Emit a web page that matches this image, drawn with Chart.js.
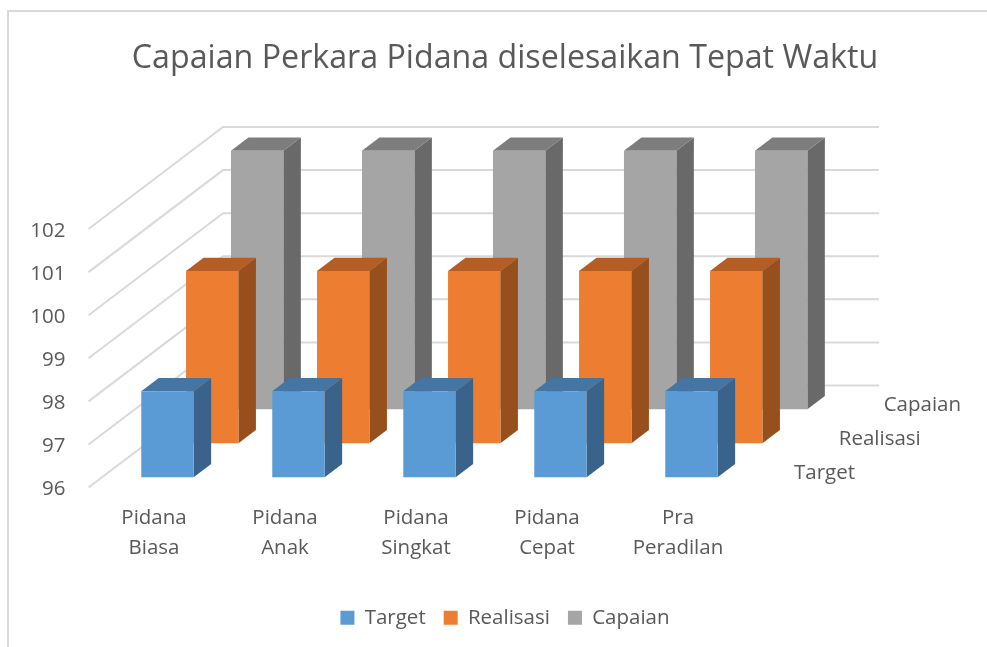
<!DOCTYPE html>
<html>
<head>
<meta charset="utf-8">
<title>Capaian Perkara Pidana</title>
<script src="https://cdn.jsdelivr.net/npm/chart.js@4"></script>
<style>
    html, body { margin: 0; padding: 0; background: #ffffff; }
    canvas { display: block; }
</style>
</head>
<body>
<canvas id="chart" width="987" height="647"></canvas>
<script>
// Data
const categories = [['Pidana', 'Biasa'], ['Pidana', 'Anak'], ['Pidana', 'Singkat'], ['Pidana', 'Cepat'], ['Pra', 'Peradilan']];
const targetValues = [98, 98, 98, 98, 98];
const realisasiValues = [100, 100, 100, 100, 100];
const capaianValues = [102, 102, 102, 102, 102];
const seriesNames = ['Target', 'Realisasi', 'Capaian'];
const axisMin = 96;
const axisMax = 102;

// Warna: depan, atas, samping
const frontColors = ['#5b9bd5', '#ed7d31', '#a5a5a5'];
const topColors = ['#4575a2', '#b45e25', '#7d7d7d'];
const sideColors = ['#39638a', '#974f1e', '#696969'];

const textColor = '#595959';
const gridColor = '#d9d9d9';
const fontFamily = '"Open Sans", sans-serif';

// Arah kedalaman 3D
const wallX = 134.5;
const wallY = -102;
const wallRight = 879;
const seriesDepth = [0.1, 0.433, 0.767];
const barDepth = 0.13;

const fake3d = {
    id: 'fake3d',
    beforeDraw(chart) {
        const ctx = chart.ctx;
        ctx.save();
        ctx.fillStyle = '#ffffff';
        ctx.fillRect(0, 0, chart.width, chart.height);
        // bingkai chart
        ctx.strokeStyle = gridColor;
        ctx.lineWidth = 2;
        ctx.beginPath();
        ctx.moveTo(8, chart.height);
        ctx.lineTo(8, 11);
        ctx.lineTo(chart.width, 11);
        ctx.stroke();
        ctx.restore();
    },
    beforeDatasetsDraw(chart) {
        // dinding kiri dan belakang
        const ctx = chart.ctx;
        const yScale = chart.scales.y;
        const left = chart.chartArea.left;
        ctx.save();
        ctx.strokeStyle = gridColor;
        ctx.lineWidth = 2;
        yScale.ticks.forEach(tick => {
            const y = yScale.getPixelForValue(tick.value);
            ctx.beginPath();
            ctx.moveTo(left, y);
            ctx.lineTo(left + wallX, y + wallY);
            ctx.lineTo(wallRight, y + wallY);
            ctx.stroke();
        });
        ctx.restore();
    },
    beforeDatasetDraw(chart, args) {
        const ctx = chart.ctx;
        const i = args.index;
        const dx = wallX * barDepth;
        const dy = wallY * barDepth;
        ctx.save();
        ctx.translate(wallX * seriesDepth[i], wallY * seriesDepth[i]);
        args.meta.data.forEach(bar => {
            const right = bar.x + bar.width / 2;
            const left = bar.x - bar.width / 2;
            ctx.fillStyle = sideColors[i];
            ctx.beginPath();
            ctx.moveTo(right, bar.y);
            ctx.lineTo(right + dx, bar.y + dy);
            ctx.lineTo(right + dx, bar.base + dy);
            ctx.lineTo(right, bar.base);
            ctx.closePath();
            ctx.fill();
            ctx.fillStyle = topColors[i];
            ctx.beginPath();
            ctx.moveTo(left, bar.y);
            ctx.lineTo(left + dx, bar.y + dy);
            ctx.lineTo(right + dx, bar.y + dy);
            ctx.lineTo(right, bar.y);
            ctx.closePath();
            ctx.fill();
        });
    },
    afterDatasetDraw(chart) {
        chart.ctx.restore();
    },
    afterDatasetsDraw(chart) {
        // label sumbu kedalaman
        const ctx = chart.ctx;
        const area = chart.chartArea;
        ctx.save();
        ctx.fillStyle = textColor;
        ctx.font = '20.5px ' + fontFamily;
        ctx.textAlign = 'left';
        ctx.textBaseline = 'middle';
        seriesNames.forEach((name, i) => {
            ctx.fillText(name, area.right + wallX * seriesDepth[i] + 37, area.bottom + wallY * seriesDepth[i] - 4.5);
        });
        ctx.restore();
    }
};

function makeDataset(i, values) {
    return {
        label: seriesNames[i],
        data: values,
        base: axisMin,
        backgroundColor: frontColors[i],
        borderWidth: 0
    };
}

new Chart(document.getElementById('chart'), {
    type: 'bar',
    data: {
        labels: categories,
        datasets: [
            makeDataset(0, targetValues),
            makeDataset(1, realisasiValues),
            makeDataset(2, capaianValues)
        ]
    },
    options: {
        responsive: false,
        animation: false,
        grouped: false,
        barPercentage: 0.8,
        categoryPercentage: 0.5,
        clip: false,
        layout: { padding: { left: 23, right: 0, top: 0, bottom: 9 } },
        scales: {
            x: {
                grid: { display: false },
                border: { display: false },
                afterFit(scale) { scale.height = 102; },
                ticks: {
                    color: textColor,
                    font: { family: fontFamily, size: 20.5, lineHeight: 1.46 },
                    padding: 8,
                    maxRotation: 0,
                    autoSkip: false
                }
            },
            y: {
                min: axisMin,
                max: axisMax,
                grid: { display: false },
                border: { display: false },
                afterFit(scale) { scale.width = 65.5; },
                ticks: {
                    stepSize: 1,
                    color: textColor,
                    font: { family: fontFamily, size: 20.5 },
                    padding: 15,
                    labelOffset: 2
                }
            },
            // ruang kosong di kanan untuk dinding belakang dan label kedalaman
            depthSpace: {
                position: 'right',
                grid: { display: false },
                border: { display: false },
                ticks: { display: false },
                afterFit(scale) { scale.width = 243.5; }
            }
        },
        plugins: {
            title: {
                display: true,
                text: 'Capaian Perkara Pidana diselesaikan Tepat Waktu',
                color: textColor,
                font: { family: fontFamily, size: 32.2, weight: 'normal', lineHeight: 1.2 },
                padding: { top: 40, bottom: 150.4 }
            },
            legend: {
                position: 'bottom',
                labels: {
                    color: textColor,
                    font: { family: fontFamily, size: 20.5 },
                    boxWidth: 14,
                    boxHeight: 14,
                    padding: 18
                }
            },
            tooltip: { enabled: false }
        }
    },
    plugins: [fake3d]
});
</script>
</body>
</html>
